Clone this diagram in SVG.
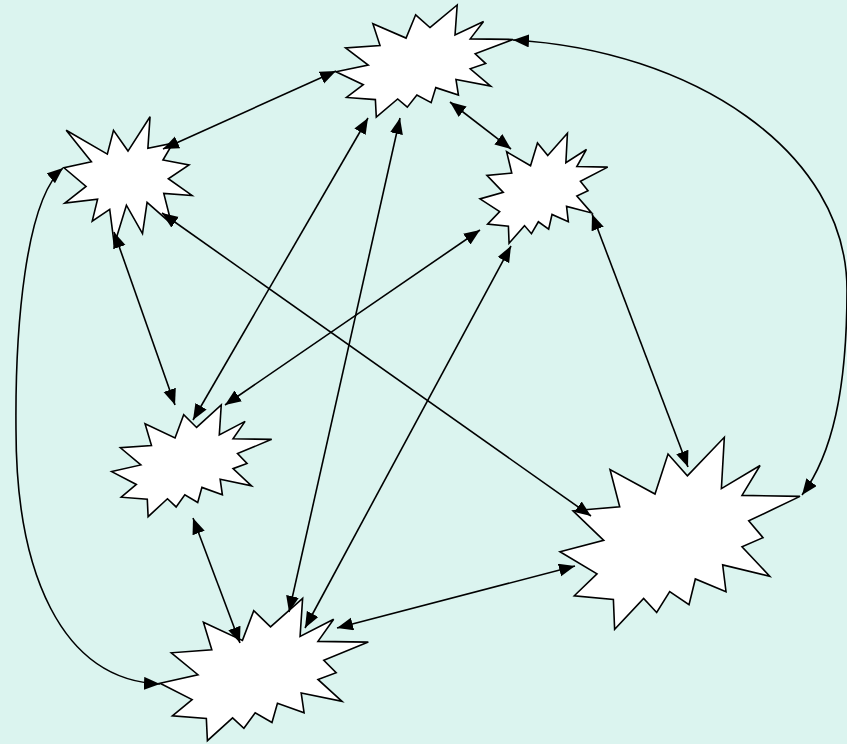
<svg xmlns="http://www.w3.org/2000/svg" xmlns:xlink="http://www.w3.org/1999/xlink" width="847" height="744" viewBox="0 0 847 744">
<style>
.seal{fill:#ffffff;stroke:#000000;stroke-width:1.6;stroke-linejoin:miter;vector-effect:non-scaling-stroke}
.edge{fill:none;stroke:#000000;stroke-width:1.6;marker-start:url(#arr);marker-end:url(#arr)}
</style>
<defs>
<path id="seal2" class="seal" vector-effect="non-scaling-stroke" d="M11462,4342 L14790,0 L14525,5777 L18007,3172 L16380,6532 L21600,6645 L16985,9402 L18270,11290 L16380,12310 L18877,15632 L14640,14350 L14942,17370 L12180,15935 L11612,18842 L9872,17370 L8700,19712 L7527,18125 L4917,21600 L4805,18240 L1285,17825 L3330,15370 L0,12877 L3935,11592 L1172,8270 L5372,7817 L4502,3625 L8550,6382 L9722,1887 Z"/>
<path id="seal1" class="seal" vector-effect="non-scaling-stroke" d="M10800,5800 L14522,0 L14155,5325 L18380,4457 L16702,7315 L21097,8137 L17607,10475 L21600,13290 L16837,12942 L18145,18095 L14020,14457 L13247,19737 L10532,14935 L8485,21600 L7715,15627 L4762,17617 L5667,13937 L135,14587 L3722,11775 L0,8615 L4627,7617 L370,2295 L7312,6320 L8352,2295 Z"/>
<marker id="arr" markerUnits="userSpaceOnUse" markerWidth="17" markerHeight="14" refX="16" refY="6.5" orient="auto-start-reverse" viewBox="0 0 17 14">
<path d="M0,0 L16,6.5 L0,13 Z" fill="#000000"/>
</marker>
</defs>
<rect x="0" y="0" width="847" height="744" fill="#dbf4ef"/>
<g id="nodeA"><use xlink:href="#seal2" href="#seal2" transform="translate(336,5) scale(0.0081944,0.0051852)"/></g>
<g id="nodeB"><use xlink:href="#seal1" href="#seal1" transform="translate(64,116.7) scale(0.0059259,0.0059259)"/></g>
<g id="nodeC"><use xlink:href="#seal2" href="#seal2" transform="translate(480,133.3) scale(0.0059120,0.0050926)"/></g>
<g id="nodeD"><use xlink:href="#seal2" href="#seal2" transform="translate(111.7,405) scale(0.0074074,0.0051713)"/></g>
<g id="nodeE"><use xlink:href="#seal2" href="#seal2" transform="translate(560,437.3) scale(0.0111111,0.0088889)"/></g>
<g id="nodeF"><use xlink:href="#seal2" href="#seal2" transform="translate(160,598.3) scale(0.0096435,0.0065926)"/></g>
<g id="connectors">
<path class="edge" d="M336,71 L163,149"/>
<path class="edge" d="M368,118 L193,420"/>
<path class="edge" d="M400,118 L289,612"/>
<path class="edge" d="M450,102 L511,149"/>
<path class="edge" d="M513,40 C690,50 847,150 847,290 C847,390 832,455 802,495"/>
<path class="edge" d="M162,213 L591,516"/>
<path class="edge" d="M114,232 L175,405"/>
<path class="edge" d="M63,168 C25,200 15,330 16,430 C16,570 60,680 160,684"/>
<path class="edge" d="M480,230 L225,405"/>
<path class="edge" d="M511,246 L305,628"/>
<path class="edge" d="M592,214 L688,467"/>
<path class="edge" d="M193,518 L240,643"/>
<path class="edge" d="M575,566 L337,628"/>
</g>
</svg>
